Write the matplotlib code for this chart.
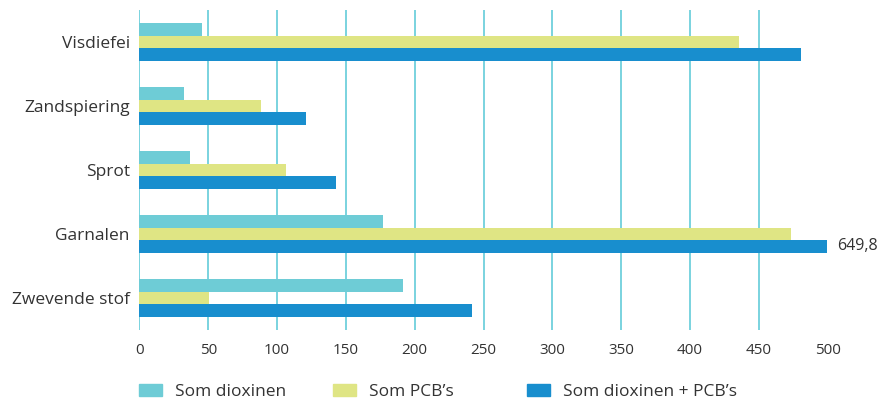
import numpy as np
import matplotlib.pyplot as plt
import matplotlib.patches as mpatches

plt.rcParams['font.family'] = ['Open Sans', 'DejaVu Sans']

categories = ['Visdiefei', 'Zandspiering', 'Sprot', 'Garnalen', 'Zwevende stof']
dioxinen = [45.4, 32.3, 36.7, 177.0, 191.5]
pcbs = [435.7, 88.3, 106.5, 473.5, 50.5]
totaal = [480.7, 121.0, 142.8, 649.8, 241.6]
series_names = ['Som dioxinen', "Som PCB\u2019s", "Som dioxinen + PCB\u2019s"]
colors = ['#6ECCD6', '#DFE584', '#188ECE']

xmax = 500
txt = '#333333'

fig = plt.figure(figsize=(8.87, 4.07), dpi=100)
ax = fig.add_axes([139.5/887, 1-330/407, 688/887, 320/407])

y = np.arange(len(categories))
h = 0.195
for k, vals in enumerate([dioxinen, pcbs, totaal]):
    ax.barh(y + (k-1)*h, vals, height=h, color=colors[k], zorder=3)

# value label for the bar that runs off the axis
for i, v in enumerate(totaal):
    if v > xmax:
        ax.text(xmax + 7, y[i] + h, f'{v:.1f}'.replace('.', ','),
                va='center', ha='left', fontsize=11.5, color=txt)

ax.set_xlim(0, xmax)
ax.set_ylim(len(categories) - 0.5, -0.5)
ax.set_xticks(np.arange(0, xmax + 1, 50))
ax.set_yticks(y)
ax.set_yticklabels(categories, fontsize=12.5, color=txt)
ax.tick_params(axis='x', length=0, pad=9, labelsize=11, labelcolor=txt)
ax.tick_params(axis='y', length=0, pad=7)
ax.grid(True, axis='x', color='#6FD0DC', linewidth=1.3, zorder=0)
ax.set_axisbelow(True)
for s in ax.spines.values():
    s.set_visible(False)

# legend entries spaced evenly along the bottom
for k in range(3):
    patch = mpatches.Patch(color=colors[k], label=series_names[k])
    fig.legend(handles=[patch], loc='center left',
               bbox_to_anchor=((139 + 194*k)/887, 1-392/407),
               frameon=False, fontsize=12.5, handlelength=1.35, handleheight=0.68,
               handletextpad=0.75, borderpad=0, borderaxespad=0,
               labelcolor=txt)

plt.savefig('out.png', dpi=100)
